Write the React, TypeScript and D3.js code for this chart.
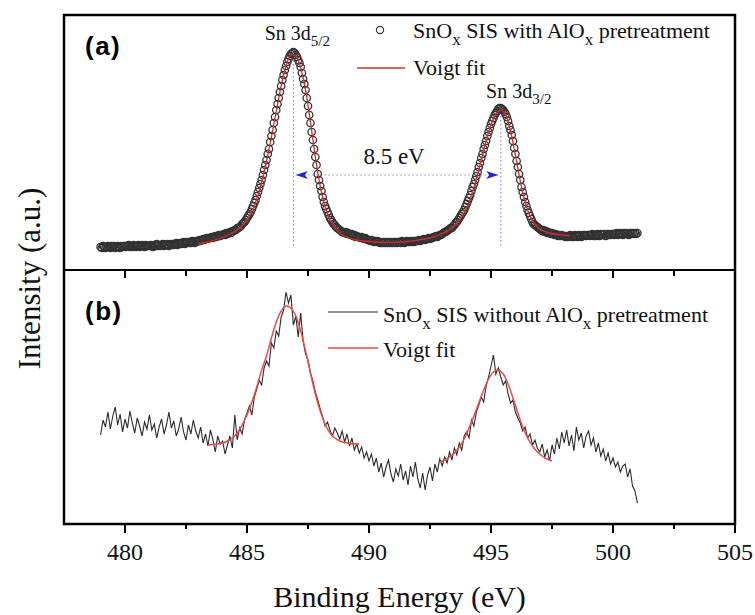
import React from "react";
import * as d3 from "d3";

// ---------- data ----------
// (a) SnOx SIS with AlOx pretreatment — measured points, uniform energy grid
const energyAStart = 479.0;
const energyAStep = 0.05;
const intensityA = [
  23,22,24,23,22,23,24,23,22,24,23,24,22,23,24,23,22,24,23,24,
  24,23,24,25,23,24,23,25,24,23,24,25,23,24,25,24,23,25,24,24,
  24,25,24,23,25,24,26,24,25,24,25,26,24,25,26,25,24,26,25,26,
  25,26,27,25,26,27,26,27,28,26,27,28,27,28,27,29,28,27,29,28,
  29,30,29,30,31,30,31,32,31,32,32,33,32,33,34,33,34,35,34,35,
  35,36,35,37,36,37,38,37,39,39,40,40,42,42,43,44,46,47,48,50,
  52,54,56,58,61,64,67,70,74,78,82,86,90,95,100,105,110,116,121,128,
  134,140,147,153,160,166,172,178,184,190,195,200,204,208,211,214,216,217,218,217,
  215,213,210,207,203,197,191,186,180,172,164,155,147,138,130,121,113,105,96,90,
  84,79,73,68,64,61,58,55,52,50,48,46,45,43,42,41,40,39,38,38,
  37,38,36,37,36,35,36,34,35,33,34,33,33,32,33,32,31,32,31,30,
  30,29,30,29,28,29,28,29,28,27,28,27,28,27,28,27,28,27,28,27,
  28,27,28,27,28,28,27,29,28,27,28,29,28,28,29,28,29,28,29,29,
  29,30,29,30,30,31,30,31,31,32,31,32,32,33,33,34,33,34,35,35,
  36,37,38,38,39,40,41,42,42,44,45,47,48,50,52,54,56,58,60,63,
  66,69,72,75,79,83,86,90,94,98,103,107,112,116,121,125,129,134,138,142,
  146,149,152,155,157,159,161,162,162,161,160,158,156,153,149,144,140,135,129,122,
  116,109,103,96,90,83,78,73,68,64,60,57,54,51,48,46,45,44,43,42,
  41,40,39,40,38,39,37,38,37,36,37,36,35,36,35,34,35,34,35,34,
  34,33,34,33,34,35,33,34,33,35,34,33,35,34,33,35,34,35,34,35,
  35,34,35,36,34,35,34,36,35,34,36,35,35,36,34,36,35,36,35,36,
  36,35,36,37,35,36,37,36,35,37,36,37,36,35,37,36,37,36,37,36,
  37,
];

// (a) Voigt fit
const fitAStart = 483.0;
const fitAStep = 0.2;
const fitA = [
  26,27,28,29.5,31,32.5,34.5,37,40,44,50,59,71,88,109,133,159,184,204,215,214,
  202,180,148,113,84,63,50,42,37,34,32,30.5,29.5,29,28.5,28,27.8,27.6,27.6,27.7,
  27.9,28.2,28.6,29.1,29.8,30.6,31.6,32.9,34.5,36.5,39,42,46.5,53,62,75,91,110,129,145,
  156,160,155,139,115,89,68,54,46,41,38.5,37,36,35.3,34.8,34.5,
];

// (b) SnOx SIS without AlOx pretreatment — measured spectrum
const energyBStart = 479.0;
const energyBStep = 0.1;
const intensityB = [
  89,104,97,112,95,108,117,99,110,92,
  105,96,113,101,91,106,98,88,102,95,
  109,94,100,86,97,105,90,99,112,96,
  103,88,95,107,92,84,99,90,104,93,
  86,97,81,90,78,94,85,72,88,80,
  83,70,79,88,76,109,84,96,90,104,
  111,118,109,127,135,144,139,156,163,158,
  181,176,193,188,207,214,232,221,229,199,
  208,187,211,183,170,164,151,143,132,124,
  115,107,98,102,94,88,96,91,85,93,
  82,90,78,86,74,80,71,77,66,72,
  63,70,58,66,52,61,47,57,64,50,
  42,55,48,60,44,53,39,58,47,62,
  45,36,51,34,49,57,43,60,52,65,
  58,67,61,72,64,76,69,81,74,88,
  92,86,104,98,112,119,127,122,138,147,
  158,169,150,156,147,139,143,130,121,124,
  112,106,101,93,97,86,90,79,84,76,
  72,80,67,74,63,79,70,86,75,92,
  81,94,78,89,73,97,84,91,76,88,
  93,79,86,72,81,68,75,63,71,60,
  66,57,62,52,58,60,47,55,38,33,
  21,
];

// (b) Voigt fits (two peaks)
const fitB1Start = 483.4;
const fitB1 = [79,79.5,80,81,83,86,91,99,109,122,137,154,168,186,202,213,218,216,208,193,173,151,130,113,100,91,86,83,81.5,80.5,80,80];
const fitB2Start = 492.9;
const fitB2 = [62,64,67,71,77,85,96,108,121,134,145,152,154,150,140,126,111,97,86,78,72,68,65,63];
const fitBStep = 0.2;

// annotations
const peakEnergies = [486.9, 495.4];
const splitLevel = 95;
const guideBottom = 22;
const splitLabel = "8.5 eV";

const xTicks = [480, 485, 490, 495, 500, 505];
const xMinorTicks = [482.5, 487.5, 492.5, 497.5, 502.5];

const grid = (start: number, step: number, n: number) =>
  d3.range(n).map((i) => +(start + i * step).toFixed(3));

const SERIF = "'Liberation Serif','Times New Roman',Times,serif";
const SANS = "'Liberation Sans',Arial,Helvetica,sans-serif";

export default function App() {
  const W = 755, H = 615;
  const left = 64, right = 735, top = 15, mid = 270, bottom = 524;

  const x = d3.scaleLinear().domain([477.5, 505]).range([left, right]);
  const yA = d3.scaleLinear().domain([0, 255]).range([mid, top]);
  const yB = d3.scaleLinear().domain([0, 254]).range([bottom, mid]);

  const eA = grid(energyAStart, energyAStep, intensityA.length);
  const ptsA = eA.map((e, i) => [e, intensityA[i]] as [number, number]);
  const fitAPts = grid(fitAStart, fitAStep, fitA.length).map((e, i) => [e, fitA[i]] as [number, number]);
  const ptsB = grid(energyBStart, energyBStep, intensityB.length).map((e, i) => [e, intensityB[i]] as [number, number]);
  const fitB1Pts = grid(fitB1Start, fitBStep, fitB1.length).map((e, i) => [e, fitB1[i]] as [number, number]);
  const fitB2Pts = grid(fitB2Start, fitBStep, fitB2.length).map((e, i) => [e, fitB2[i]] as [number, number]);

  const smoothA = d3.line<[number, number]>().x((d) => x(d[0])).y((d) => yA(d[1])).curve(d3.curveCatmullRom.alpha(0.5));
  const lineB = d3.line<[number, number]>().x((d) => x(d[0])).y((d) => yB(d[1]));
  const smoothB = d3.line<[number, number]>().x((d) => x(d[0])).y((d) => yB(d[1])).curve(d3.curveCatmullRom.alpha(0.5));

  const peakTop = (pe: number) => {
    let best = 0;
    eA.forEach((e, i) => { if (Math.abs(e - pe) < 0.06) best = Math.max(best, intensityA[i]); });
    return best;
  };

  const px1 = x(peakEnergies[0]);
  const px2 = x(peakEnergies[1]);
  const ySplit = yA(splitLevel);

  const arrowLeft = (tx: number, ty: number) =>
    `M${tx},${ty} L${tx + 12},${ty - 4} L${tx + 9},${ty} L${tx + 12},${ty + 4} Z`;
  const arrowRight = (tx: number, ty: number) =>
    `M${tx},${ty} L${tx - 12},${ty - 4} L${tx - 9},${ty} L${tx - 12},${ty + 4} Z`;

  const dotted = { stroke: "#8f8fe0", strokeWidth: 1.2, strokeDasharray: "1.5,2.5", fill: "none" };

  return (
    <div style={{ position: "absolute", left: 0, top: 0 }}>
      <svg width={W} height={H} style={{ display: "block", background: "#fff" }}>
        {/* guides (a) */}
        {peakEnergies.map((pe, i) => (
          <line key={"g" + i} x1={x(pe)} x2={x(pe)} y1={yA(peakTop(pe))} y2={yA(guideBottom)} {...dotted} />
        ))}
        <line x1={px1 + 3} x2={px2 - 3} y1={ySplit} y2={ySplit} {...dotted} />

        {/* data (a) */}
        <g fill="none" stroke="#333" strokeWidth={1.3}>
          {ptsA.map((d, i) => (
            <circle key={i} cx={x(d[0])} cy={yA(d[1])} r={3.7} />
          ))}
        </g>
        <path d={smoothA(fitAPts) || ""} fill="none" stroke="#dd2a2a" strokeWidth={1.3} />

        {/* arrows */}
        <path d={arrowLeft(px1 + 2.5, ySplit)} fill="#1f1fe6" />
        <path d={arrowRight(px2 - 2.5, ySplit)} fill="#1f1fe6" />
        <text x={(px1 + px2) / 2 - 3} y={ySplit - 11} textAnchor="middle" fontFamily={SERIF} fontSize={23} fill="#111">
          {splitLabel}
        </text>

        {/* peak labels */}
        <text x={px1 + 4} y={yA(peakTop(peakEnergies[0])) - 12} textAnchor="middle" fontFamily={SERIF} fontSize={20} fill="#111" style={{ whiteSpace: "pre" }}>
          <tspan>Sn 3d</tspan>
          <tspan fontSize={15} dy={6}>5/2</tspan>
        </text>
        <text x={px2 + 18} y={yA(peakTop(peakEnergies[1])) - 10} textAnchor="middle" fontFamily={SERIF} fontSize={20} fill="#111" style={{ whiteSpace: "pre" }}>
          <tspan>Sn 3d</tspan>
          <tspan fontSize={15} dy={6}>3/2</tspan>
        </text>

        {/* legend (a) */}
        <circle cx={380} cy={30} r={3.6} fill="none" stroke="#333" strokeWidth={1.2} />
        <text x={413} y={38} fontFamily={SERIF} fontSize={22} fill="#111" style={{ whiteSpace: "pre" }}>
          <tspan>SnO</tspan>
          <tspan fontSize={17} dy={7}>x</tspan>
          <tspan dy={-7}> SIS with AlO</tspan>
          <tspan fontSize={17} dy={7}>x</tspan>
          <tspan dy={-7}> pretreatment</tspan>
        </text>
        <line x1={357} x2={405} y1={68} y2={68} stroke="#dd2a2a" strokeWidth={1.3} />
        <text x={413} y={75} fontFamily={SERIF} fontSize={22} fill="#111">Voigt fit</text>

        {/* panel (b) */}
        <path d={lineB(ptsB) || ""} fill="none" stroke="#2a2a2a" strokeWidth={1.1} />
        <path d={smoothB(fitB1Pts) || ""} fill="none" stroke="#ee4a4a" strokeWidth={1.5} />
        <path d={smoothB(fitB2Pts) || ""} fill="none" stroke="#ee4a4a" strokeWidth={1.5} />

        <line x1={328} x2={378} y1={312} y2={312} stroke="#2a2a2a" strokeWidth={1.1} />
        <text x={383} y={322} fontFamily={SERIF} fontSize={22} fill="#111" style={{ whiteSpace: "pre" }}>
          <tspan>SnO</tspan>
          <tspan fontSize={17} dy={7}>x</tspan>
          <tspan dy={-7}> SIS without AlO</tspan>
          <tspan fontSize={17} dy={7}>x</tspan>
          <tspan dy={-7}> pretreatment</tspan>
        </text>
        <line x1={328} x2={378} y1={348} y2={348} stroke="#ee4a4a" strokeWidth={1.5} />
        <text x={383} y={357} fontFamily={SERIF} fontSize={22} fill="#111">Voigt fit</text>

        {/* panel labels */}
        <text x={85} y={55} fontFamily={SANS} fontWeight="bold" fontSize={26} letterSpacing={1.5} fill="#000">(a)</text>
        <text x={85} y={320} fontFamily={SANS} fontWeight="bold" fontSize={26} letterSpacing={1.5} fill="#000">(b)</text>

        {/* frame */}
        <rect x={left} y={top} width={right - left} height={bottom - top} fill="none" stroke="#000" strokeWidth={2.5} />
        <line x1={left} x2={right} y1={mid} y2={mid} stroke="#000" strokeWidth={2.2} />

        {/* ticks */}
        <g stroke="#000" strokeWidth={2}>
          {xTicks.map((t) => (
            <g key={"t" + t}>
              <line x1={x(t)} x2={x(t)} y1={bottom} y2={bottom + 9} />
              <line x1={x(t)} x2={x(t)} y1={mid} y2={mid + 8} />
            </g>
          ))}
          {xMinorTicks.map((t) => (
            <g key={"m" + t}>
              <line x1={x(t)} x2={x(t)} y1={bottom} y2={bottom + 5} />
              <line x1={x(t)} x2={x(t)} y1={mid} y2={mid + 6} />
            </g>
          ))}
        </g>
        {xTicks.map((t) => (
          <text key={"l" + t} x={x(t)} y={560} textAnchor="middle" fontFamily={SERIF} fontSize={24} fill="#111">
            {t}
          </text>
        ))}

        {/* axis titles */}
        <text x={(left + right) / 2} y={607} textAnchor="middle" fontFamily={SERIF} fontSize={30} fill="#111">
          Binding Energy (eV)
        </text>
        <text transform={`translate(40,${(top + bottom) / 2 + 9}) rotate(-90)`} textAnchor="middle" fontFamily={SERIF} fontSize={31} fill="#111">
          Intensity (a.u.)
        </text>
      </svg>
    </div>
  );
}
